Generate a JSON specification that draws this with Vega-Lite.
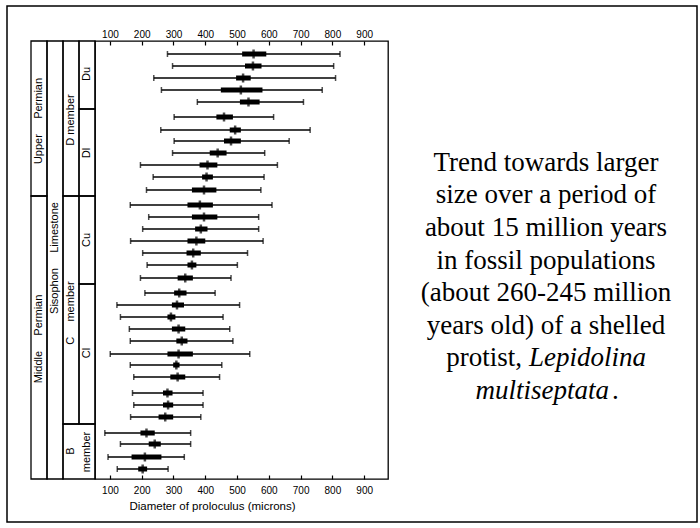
{
  "$schema": "https://vega.github.io/schema/vega-lite/v6.json",
  "width": 293,
  "height": 438,
  "autosize": {"type": "none"},
  "padding": {"left": 95, "top": 41, "right": 312, "bottom": 49},
  "background": "white",
  "config": {"view": {"stroke": "black", "strokeWidth": 1.3}, "font": "Liberation Sans"},
  "datasets": {
    "samples": [
      {"level": 425, "min": 281, "lo": 516, "mean": 552, "hi": 592, "max": 824},
      {"level": 413, "min": 297, "lo": 525, "mean": 550, "hi": 577, "max": 804},
      {"level": 401, "min": 238, "lo": 497, "mean": 519, "hi": 543, "max": 810},
      {"level": 389, "min": 262, "lo": 449, "mean": 512, "hi": 580, "max": 768},
      {"level": 377, "min": 375, "lo": 509, "mean": 536, "hi": 571, "max": 709},
      {"level": 362, "min": 302, "lo": 435, "mean": 459, "hi": 487, "max": 615},
      {"level": 349, "min": 260, "lo": 477, "mean": 494, "hi": 512, "max": 730},
      {"level": 338, "min": 302, "lo": 459, "mean": 481, "hi": 512, "max": 664},
      {"level": 326, "min": 297, "lo": 414, "mean": 439, "hi": 467, "max": 587},
      {"level": 314, "min": 196, "lo": 382, "mean": 407, "hi": 438, "max": 627},
      {"level": 302, "min": 236, "lo": 390, "mean": 404, "hi": 424, "max": 585},
      {"level": 289, "min": 215, "lo": 358, "mean": 396, "hi": 435, "max": 575},
      {"level": 274, "min": 164, "lo": 344, "mean": 383, "hi": 424, "max": 610},
      {"level": 262, "min": 222, "lo": 358, "mean": 396, "hi": 438, "max": 568},
      {"level": 250, "min": 203, "lo": 368, "mean": 386, "hi": 407, "max": 568},
      {"level": 238, "min": 165, "lo": 344, "mean": 372, "hi": 400, "max": 582},
      {"level": 226, "min": 203, "lo": 341, "mean": 362, "hi": 386, "max": 533},
      {"level": 214, "min": 217, "lo": 344, "mean": 358, "hi": 372, "max": 501},
      {"level": 201, "min": 196, "lo": 313, "mean": 337, "hi": 361, "max": 481},
      {"level": 186, "min": 210, "lo": 302, "mean": 318, "hi": 341, "max": 431},
      {"level": 174, "min": 122, "lo": 295, "mean": 311, "hi": 333, "max": 508},
      {"level": 162, "min": 133, "lo": 281, "mean": 292, "hi": 306, "max": 456},
      {"level": 150, "min": 161, "lo": 295, "mean": 316, "hi": 337, "max": 477},
      {"level": 138, "min": 164, "lo": 309, "mean": 326, "hi": 344, "max": 487},
      {"level": 125, "min": 101, "lo": 281, "mean": 316, "hi": 361, "max": 540},
      {"level": 114, "min": 164, "lo": 299, "mean": 309, "hi": 319, "max": 452},
      {"level": 102, "min": 175, "lo": 290, "mean": 313, "hi": 337, "max": 445},
      {"level": 86, "min": 171, "lo": 267, "mean": 281, "hi": 297, "max": 393},
      {"level": 74, "min": 175, "lo": 267, "mean": 283, "hi": 299, "max": 393},
      {"level": 62, "min": 165, "lo": 253, "mean": 274, "hi": 299, "max": 386},
      {"level": 46, "min": 84, "lo": 196, "mean": 215, "hi": 241, "max": 354},
      {"level": 35, "min": 133, "lo": 222, "mean": 241, "hi": 260, "max": 354},
      {"level": 22, "min": 94, "lo": 168, "mean": 210, "hi": 262, "max": 334},
      {"level": 10, "min": 123, "lo": 189, "mean": 203, "hi": 217, "max": 283}
    ],
    "units": [
      {"unit": "Upper Permian", "c0": 0, "c1": 1, "l0": 283, "l1": 438},
      {"unit": "Middle Permian", "c0": 0, "c1": 1, "l0": 0, "l1": 283},
      {"unit": "Sisophon Limestone", "c0": 1, "c1": 2, "l0": 0, "l1": 438},
      {"unit": "D member", "c0": 2, "c1": 3, "l0": 283, "l1": 438},
      {"unit": "C member", "c0": 2, "c1": 3, "l0": 55, "l1": 283},
      {"unit": "B member", "c0": 2, "c1": 4, "l0": 0, "l1": 55},
      {"unit": "Du", "c0": 3, "c1": 4, "l0": 370, "l1": 438},
      {"unit": "Dl", "c0": 3, "c1": 4, "l0": 283, "l1": 370},
      {"unit": "Cu", "c0": 3, "c1": 4, "l0": 195, "l1": 283},
      {"unit": "Cl", "c0": 3, "c1": 4, "l0": 55, "l1": 195}
    ],
    "unitLabels": [
      {"label": "Upper\u00a0\u00a0\u00a0\u00a0\u00a0Permian", "col": 0.5, "level": 358},
      {"label": "Middle\u00a0\u00a0\u00a0\u00a0\u00a0Permian", "col": 0.5, "level": 140},
      {"label": "Sisophon\u00a0\u00a0\u00a0\u00a0\u00a0Limestone", "col": 1.5, "level": 221},
      {"label": "D member", "col": 2.5, "level": 359},
      {"label": "C\u00a0\u00a0\u00a0\u00a0\u00a0member", "col": 2.5, "level": 166},
      {"label": "B", "col": 2.5, "level": 28},
      {"label": "member", "col": 3.5, "level": 27},
      {"label": "Du", "col": 3.5, "level": 405},
      {"label": "Dl", "col": 3.5, "level": 326},
      {"label": "Cu", "col": 3.5, "level": 239},
      {"label": "Cl", "col": 3.5, "level": 126}
    ],
    "caption": [
      {"line": 1, "part": "roman", "text": "Trend towards larger"},
      {"line": 2, "part": "roman", "text": "size over a period of"},
      {"line": 3, "part": "roman", "text": "about 15 million years"},
      {"line": 4, "part": "roman", "text": "in fossil populations"},
      {"line": 5, "part": "roman", "text": "(about 260-245 million"},
      {"line": 6, "part": "roman", "text": "years old) of a shelled"},
      {"line": 7, "part": "lead", "text": "protist,"},
      {"line": 7, "part": "genus", "text": "Lepidolina"},
      {"line": 8, "part": "species", "text": "multiseptata"},
      {"line": 8, "part": "stop", "text": "."}
    ]
  },
  "layer": [
    {
      "data": {"name": "samples"},
      "layer": [
        {
          "mark": {"type": "rule", "color": "black", "strokeWidth": 1.6},
          "encoding": {
            "x": {"field": "min", "type": "quantitative", "scale": {"domain": [53, 975], "nice": false, "zero": false},
              "axis": {"orient": "bottom", "values": [100, 200, 300, 400, 500, 600, 700, 800, 900], "grid": false, "domain": false,
                "tickSize": -4, "tickColor": "black", "tickWidth": 1.2, "labelPadding": 18, "labelBaseline": "alphabetic", "labelFlush": false,
                "labelFont": "Liberation Sans", "labelFontSize": 10, "labelColor": "black",
                "title": "Diameter of proloculus (microns)", "titleFont": "Liberation Sans", "titleFontSize": 11.5, "titleFontWeight": "normal",
                "titleColor": "black", "titleBaseline": "alphabetic", "titleAlign": "center", "titleX": 117, "titleY": 30.5}},
            "x2": {"field": "max"},
            "y": {"field": "level", "type": "quantitative", "scale": {"domain": [0, 438], "nice": false, "zero": false}, "axis": null}
          }
        },
        {
          "mark": {"type": "tick", "orient": "vertical", "color": "black", "size": 6, "thickness": 1.5},
          "encoding": {
            "x": {"field": "min", "type": "quantitative",
              "axis": {"orient": "top", "values": [100, 200, 300, 400, 500, 600, 700, 800, 900], "grid": false, "domain": false,
                "tickSize": -4, "tickColor": "black", "tickWidth": 1.2, "labelPadding": 7.3, "labelBaseline": "alphabetic", "labelFlush": false,
                "labelFont": "Liberation Sans", "labelFontSize": 10, "labelColor": "black", "title": null}},
            "y": {"field": "level", "type": "quantitative", "axis": null}
          }
        },
        {
          "mark": {"type": "tick", "orient": "vertical", "color": "black", "size": 6, "thickness": 1.5},
          "encoding": {
            "x": {"field": "max", "type": "quantitative", "axis": null},
            "y": {"field": "level", "type": "quantitative", "axis": null}
          }
        },
        {
          "mark": {"type": "rule", "color": "black", "strokeWidth": 5, "strokeCap": "butt"},
          "encoding": {
            "x": {"field": "lo", "type": "quantitative", "axis": null},
            "x2": {"field": "hi"},
            "y": {"field": "level", "type": "quantitative", "axis": null}
          }
        },
        {
          "mark": {"type": "tick", "orient": "vertical", "color": "black", "size": 9, "thickness": 2.5},
          "encoding": {
            "x": {"field": "mean", "type": "quantitative", "axis": null},
            "y": {"field": "level", "type": "quantitative", "axis": null}
          }
        }
      ],
      "resolve": {"axis": {"x": "independent"}}
    },
    {
      "layer": [
        {
          "data": {"name": "units"},
          "mark": {"type": "rect", "filled": false, "stroke": "black", "strokeWidth": 1.3},
          "encoding": {
            "x": {"field": "c0", "type": "quantitative", "scale": {"domain": [0, 4], "range": [-64, 0], "nice": false, "zero": false}, "axis": null},
            "x2": {"field": "c1"},
            "y": {"field": "l0", "type": "quantitative", "scale": {"domain": [0, 438], "nice": false, "zero": false}, "axis": null},
            "y2": {"field": "l1"}
          }
        },
        {
          "data": {"name": "unitLabels"},
          "mark": {"type": "text", "angle": 270, "font": "Liberation Sans", "fontSize": 11, "color": "black", "align": "center", "baseline": "middle"},
          "encoding": {
            "x": {"field": "col", "type": "quantitative", "axis": null},
            "y": {"field": "level", "type": "quantitative", "axis": null},
            "text": {"field": "label"}
          }
        }
      ]
    },
    {
      "data": {"name": "caption"},
      "layer": [
        {
          "transform": [{"filter": "datum.part == 'roman'"}],
          "mark": {"type": "text", "font": "Liberation Serif", "fontSize": 27, "align": "center", "baseline": "alphabetic", "color": "black"},
          "encoding": {
            "x": {"datum": 0.5, "type": "quantitative", "scale": {"domain": [0, 1], "range": [296, 606]}, "axis": null},
            "y": {"field": "line", "type": "quantitative", "scale": {"domain": [-2.99, 10.46], "reverse": true, "nice": false, "zero": false}, "axis": null},
            "text": {"field": "text"}
          }
        },
        {
          "transform": [{"filter": "datum.part == 'lead'"}],
          "mark": {"type": "text", "font": "Liberation Serif", "fontSize": 27, "align": "right", "baseline": "alphabetic", "color": "black", "dx": -24},
          "encoding": {
            "x": {"datum": 0.5, "type": "quantitative", "axis": null},
            "y": {"field": "line", "type": "quantitative", "axis": null},
            "text": {"field": "text"}
          }
        },
        {
          "transform": [{"filter": "datum.part == 'genus'"}],
          "mark": {"type": "text", "font": "Liberation Serif", "fontSize": 27, "fontStyle": "italic", "align": "left", "baseline": "alphabetic", "color": "black", "dx": -17},
          "encoding": {
            "x": {"datum": 0.5, "type": "quantitative", "axis": null},
            "y": {"field": "line", "type": "quantitative", "axis": null},
            "text": {"field": "text"}
          }
        },
        {
          "transform": [{"filter": "datum.part == 'species'"}],
          "mark": {"type": "text", "font": "Liberation Serif", "fontSize": 27, "fontStyle": "italic", "align": "right", "baseline": "alphabetic", "color": "black", "dx": 63},
          "encoding": {
            "x": {"datum": 0.5, "type": "quantitative", "axis": null},
            "y": {"field": "line", "type": "quantitative", "axis": null},
            "text": {"field": "text"}
          }
        },
        {
          "transform": [{"filter": "datum.part == 'stop'"}],
          "mark": {"type": "text", "font": "Liberation Serif", "fontSize": 27, "align": "left", "baseline": "alphabetic", "color": "black", "dx": 66},
          "encoding": {
            "x": {"datum": 0.5, "type": "quantitative", "axis": null},
            "y": {"field": "line", "type": "quantitative", "axis": null},
            "text": {"field": "text"}
          }
        }
      ]
    },
    {
      "data": {"values": [{"frame": "figure"}]},
      "mark": {"type": "rect", "filled": false, "stroke": "black", "strokeWidth": 1.5},
      "encoding": {
        "x": {"datum": 0, "type": "quantitative", "scale": {"domain": [0, 1], "range": [-88, 602]}, "axis": null},
        "x2": {"datum": 1},
        "y": {"datum": 0, "type": "quantitative", "scale": {"domain": [0, 1], "range": [-35, 481]}, "axis": null},
        "y2": {"datum": 1}
      }
    }
  ],
  "resolve": {"scale": {"x": "independent", "y": "independent"}, "axis": {"x": "independent", "y": "independent"}}
}
